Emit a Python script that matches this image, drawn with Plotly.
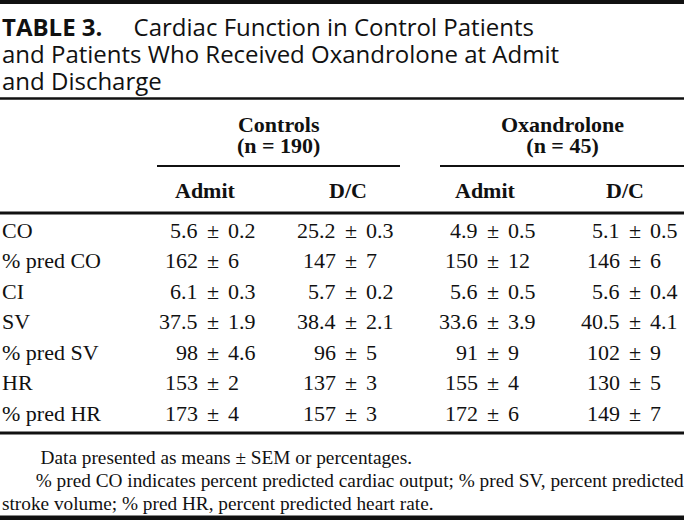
import plotly.graph_objects as go

# ---- data ----
title_label = "TABLE 3."
title_lines = ["Cardiac Function in Control Patients",
               "and Patients Who Received Oxandrolone at Admit",
               "and Discharge"]
group_names = ["Controls", "Oxandrolone"]
group_n = ["(n = 190)", "(n = 45)"]
subheaders = ["Admit", "D/C", "Admit", "D/C"]
row_labels = ["CO", "% pred CO", "CI", "SV", "% pred SV", "HR", "% pred HR"]
controls_admit_mean = [5.6, 162, 6.1, 37.5, 98, 153, 173]
controls_admit_sem = [0.2, 6, 0.3, 1.9, 4.6, 2, 4]
controls_dc_mean = [25.2, 147, 5.7, 38.4, 96, 137, 157]
controls_dc_sem = [0.3, 7, 0.2, 2.1, 5, 3, 3]
oxandrolone_admit_mean = [4.9, 150, 5.6, 33.6, 91, 155, 172]
oxandrolone_admit_sem = [0.5, 12, 0.5, 3.9, 9, 4, 6]
oxandrolone_dc_mean = [5.1, 146, 5.6, 40.5, 102, 130, 149]
oxandrolone_dc_sem = [0.5, 6, 0.4, 4.1, 9, 5, 7]
footnotes = ["Data presented as means ± SEM or percentages.",
             "% pred CO indicates percent predicted cardiac output; % pred SV, percent predicted",
             "stroke volume; % pred HR, percent predicted heart rate."]

columns = [(controls_admit_mean, controls_admit_sem),
           (controls_dc_mean, controls_dc_sem),
           (oxandrolone_admit_mean, oxandrolone_admit_sem),
           (oxandrolone_dc_mean, oxandrolone_dc_sem)]

# ---- layout constants (pixel space) ----
W, H = 684, 520
SANS = "Open Sans"
SERIF = "Liberation Serif"
INK = "#111"
pm_x = [213, 351, 493, 635]
sub_x = [205, 348, 485, 625]
group_x = [278, 562]
group_lines = [(157, 400), (440, 684)]
row_y0, row_dy = 230, 30.5
PM_GAP = 13
NB = "&nbsp;"

fig = go.Figure()
fig.add_trace(go.Scatter(x=[0, W], y=[0, H], mode="markers",
                         marker=dict(opacity=0), hoverinfo="skip", showlegend=False))

ann = []
def txt(x, y, s, size, family, anchor="left", yanchor="middle", bold=False, align="left"):
    ann.append(dict(x=x, y=y, xref="x", yref="y", text=(f"<b>{s}</b>" if bold else s),
                    showarrow=False, xanchor=anchor, yanchor=yanchor, align=align,
                    font=dict(family=family, size=size, color=INK)))

def block(lines, glyph_px):
    # glyphs drawn at glyph_px while line spacing comes from the annotation font size
    return "<br>".join(f'<span style="font-size:{glyph_px}px">{l}</span>' for l in lines)

# title (line spacing ~27px)
t1 = f"<b>{title_label}</b>" + NB * 5 + title_lines[0]
txt(0, 53, block([t1, title_lines[1], title_lines[2]], 24), 20.8, SANS)

# group headers
for gx, gname, gn in zip(group_x, group_names, group_n):
    txt(gx, 135, block([f"<b>{gname}</b>", f"<b>{gn}</b>"], 22), 16.5, SERIF,
        anchor="center", align="center")
for sx, s in zip(sub_x, subheaders):
    txt(sx, 190, s, 22, SERIF, anchor="center", bold=True)

# body
def fmt(v):
    return f"{v:g}"
for i, lab in enumerate(row_labels):
    y = row_y0 + i * row_dy
    txt(0, y, lab, 22, SERIF)
    for c, (means, sems) in enumerate(columns):
        txt(pm_x[c] - PM_GAP, y, fmt(means[i]), 22, SERIF, anchor="right")
        txt(pm_x[c], y, "±", 22, SERIF, anchor="center")
        txt(pm_x[c] + PM_GAP, y, fmt(sems[i]), 22, SERIF, anchor="left")

# footnotes (line spacing ~23px)
fn = [NB * 8 + footnotes[0], NB * 7 + footnotes[1], footnotes[2]]
txt(0, 480, block(fn, 19.3), 17.7, SERIF)

# rules
shapes = []
def hline(x0, x1, y, w):
    shapes.append(dict(type="line", xref="x", yref="y", x0=x0, x1=x1, y0=y, y1=y,
                       line=dict(color=INK, width=w)))
hline(0, W, 2, 4)
hline(0, W, 98.5, 2.5)
for a, b in group_lines:
    hline(a, b, 166, 2)
hline(0, W, 213, 3)
hline(0, W, 433, 3)
hline(0, W, 518, 5)

fig.update_layout(width=W, height=H, margin=dict(l=0, r=0, t=0, b=0),
                  paper_bgcolor="white", plot_bgcolor="white",
                  xaxis=dict(range=[0, W], visible=False, fixedrange=True),
                  yaxis=dict(range=[H, 0], visible=False, fixedrange=True),
                  annotations=ann, shapes=shapes, showlegend=False)
fig.write_html("out.html", post_script="document.body.style.margin='0';document.body.style.overflow='hidden';",
               config={"displayModeBar": False})
